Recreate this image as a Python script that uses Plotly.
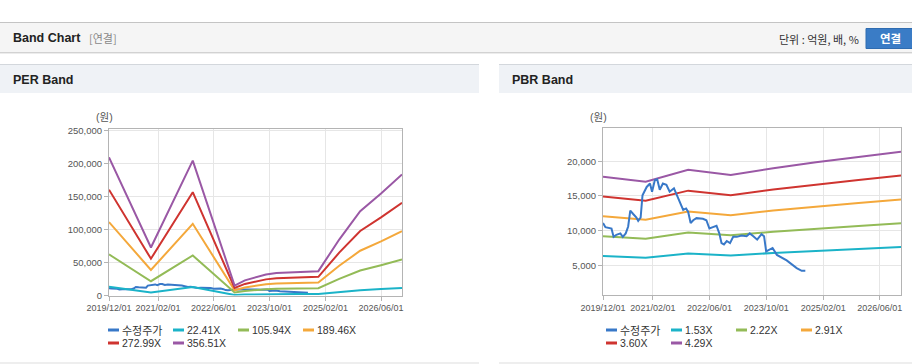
import plotly.graph_objects as go

W, H = 912, 364

# ---------------- data ----------------
per_dates = ['2019-12-01', '2020-12-01', '2021-12-01', '2022-12-01', '2023-03-01', '2023-06-01',
             '2023-09-01', '2023-12-01', '2024-06-01', '2024-12-01', '2025-06-01', '2025-12-01',
             '2026-06-01', '2026-12-01']
per_22_41 = [13200, 4590, 12890, 940, 1450, 1760, 2010, 2140, 2230, 2330, 5340, 8050, 9740, 11560]
per_105_94 = [62400, 21700, 60920, 4460, 6830, 8320, 9510, 10110, 10550, 11000, 25260, 38030, 46060, 54670]
per_189_46 = [111590, 38800, 108940, 7980, 12220, 14870, 17010, 18070, 18870, 19670, 45170, 68020, 82380, 97760]
per_272_99 = [160790, 55910, 156970, 11490, 17610, 21430, 24510, 26040, 27190, 28340, 65080, 98000, 118700, 140860]
per_356_51 = [210000, 73000, 205000, 15000, 23000, 28000, 32000, 34000, 35500, 37000, 85000, 128000, 155000, 184000]

pbr_dates = ['2019-12-01', '2020-12-01', '2021-12-01', '2022-12-01', '2023-12-01', '2024-12-01',
             '2025-12-01', '2026-12-01']
pbr_1_53 = [6342, 6085, 6701, 6426, 6776, 7087, 7358, 7626]
pbr_2_22 = [9202, 8829, 9724, 9324, 9832, 10283, 10676, 11064]
pbr_2_91 = [12062, 11573, 12746, 12222, 12888, 13479, 13994, 14503]
pbr_3_60 = [14922, 14317, 15768, 15120, 15944, 16675, 17312, 17942]
pbr_4_29 = [17782, 17061, 18790, 18018, 19000, 19871, 20631, 21381]

price_dates = ['2019-12-01', '2019-12-22', '2020-02-12', '2020-03-01', '2020-03-25', '2020-04-28',
               '2020-05-19', '2020-06-13', '2020-07-04', '2020-07-22', '2020-08-16', '2020-09-13',
               '2020-09-28', '2020-10-19', '2020-11-04', '2020-12-10', '2021-01-07', '2021-01-25',
               '2021-02-18', '2021-03-10', '2021-04-01', '2021-04-28', '2021-05-28', '2021-06-25',
               '2021-08-01', '2021-08-28', '2021-09-22', '2021-10-19', '2021-11-13', '2021-12-01',
               '2021-12-22', '2022-01-13', '2022-02-10', '2022-04-06', '2022-05-06', '2022-06-01',
               '2022-07-01', '2022-08-01', '2022-08-25', '2022-09-13', '2022-10-04', '2022-10-28',
               '2022-11-25', '2022-12-22', '2023-01-22', '2023-03-04', '2023-04-16', '2023-05-13',
               '2023-06-13', '2023-07-16', '2023-08-22', '2023-09-13', '2023-10-01', '2023-10-28',
               '2023-11-25', '2024-01-01', '2024-03-25', '2024-06-19', '2024-08-01', '2024-09-01']
price_vals = [11100, 10500, 10300, 9100, 9400, 9600,
              9100, 9600, 10600, 12900, 12400, 11900,
              11400, 11900, 15100, 16300, 16800, 15600,
              17300, 17400, 15900, 16800, 16600, 15600,
              16100, 15100, 14200, 13000, 13200, 12700,
              11100, 11500, 11800, 11700, 11500, 10300,
              10500, 10700, 9600, 8200, 8000, 8500,
              8200, 9100, 9100, 9300, 9200, 9600,
              9200, 8700, 9500, 9200, 7000, 7200,
              7500, 6500, 5700, 4600, 4200, 4200]

tick_dates = ['2019-12-01', '2021-02-01', '2022-06-01', '2023-10-01', '2025-02-01', '2026-06-01']
tick_text = ['2019/12/01', '2021/02/01', '2022/06/01', '2023/10/01', '2025/02/01', '2026/06/01']
per_yticks = [0, 50000, 100000, 150000, 200000, 250000]
pbr_yticks = [5000, 10000, 15000, 20000]

per_names = ['수정주가', '22.41X', '105.94X', '189.46X', '272.99X', '356.51X']
pbr_names = ['수정주가', '1.53X', '2.22X', '2.91X', '3.60X', '4.29X']
colors = ['#3878c8', '#1bb3c8', '#93bb57', '#f4a83b', '#cf3430', '#9a58a5']

# ---------------- helpers ----------------
def px(x):
    return x / W

def py(y):
    return 1 - y / H

NUM_FONT = 'Liberation Sans, Arial, sans-serif'
KR_FONT = 'Liberation Sans, Noto Sans CJK KR, sans-serif'
HANGUL_FONT = 'Noto Sans CJK KR, sans-serif'

fig = go.Figure()

per_series = [per_22_41, per_105_94, per_189_46, per_272_99, per_356_51]
pbr_series = [pbr_1_53, pbr_2_22, pbr_2_91, pbr_3_60, pbr_4_29]

fig.add_trace(go.Scatter(x=price_dates, y=price_vals, mode='lines', name=per_names[0],
                         line=dict(color=colors[0], width=2), xaxis='x', yaxis='y', showlegend=False))
for i, s in enumerate(per_series):
    fig.add_trace(go.Scatter(x=per_dates, y=s, mode='lines', name=per_names[i + 1],
                             line=dict(color=colors[i + 1], width=2), xaxis='x', yaxis='y', showlegend=False))
for i, s in enumerate(pbr_series):
    fig.add_trace(go.Scatter(x=pbr_dates, y=s, mode='lines', name=pbr_names[i + 1],
                             line=dict(color=colors[i + 1], width=2), xaxis='x2', yaxis='y2', showlegend=False))
fig.add_trace(go.Scatter(x=price_dates, y=price_vals, mode='lines', name=pbr_names[0],
                         line=dict(color=colors[0], width=2), xaxis='x2', yaxis='y2', showlegend=False))

# ---------------- axes ----------------
GRID = '#e6e6e6'
AXL = '#b4b4b4'
xcommon = dict(type='date', range=['2019-12-01', '2026-12-01'], tickvals=tick_dates, ticktext=tick_text,
               tickangle=0, showgrid=True, gridcolor=GRID, showline=True, linecolor=AXL, mirror=True,
               ticks='outside', ticklen=4, tickcolor=AXL, zeroline=False, automargin=False,
               tickfont=dict(family=NUM_FONT, size=9, color='#555555'))
ycommon = dict(showgrid=True, gridcolor=GRID, showline=True, linecolor=AXL, mirror=True,
               ticks='outside', ticklen=4, tickcolor=AXL, zeroline=False, tickformat=',d', automargin=False,
               tickfont=dict(family=NUM_FONT, size=9.5, color='#555555'))

fig.update_layout(
    width=W, height=H, autosize=False, margin=dict(l=0, r=0, t=0, b=0, pad=0, autoexpand=False),
    paper_bgcolor='white', plot_bgcolor='white', showlegend=False,
    xaxis=dict(domain=[px(109), px(402)], anchor='y', **xcommon),
    yaxis=dict(domain=[py(295.5), py(129)], anchor='x', range=[0, 253000], tickvals=per_yticks, **ycommon),
    xaxis2=dict(domain=[px(603), px(901)], anchor='y2', **xcommon),
    yaxis2=dict(domain=[py(295), py(128.3)], anchor='x2', range=[715, 24760], tickvals=pbr_yticks, **ycommon),
)

shapes = []
ann = []

# top header bar
shapes.append(dict(type='rect', xref='paper', yref='paper', x0=0, x1=1, y0=py(52), y1=py(22),
                   fillcolor='#f5f5f5', line=dict(width=0), layer='below'))
shapes.append(dict(type='line', xref='paper', yref='paper', x0=0, x1=1, y0=py(22.5), y1=py(22.5),
                   line=dict(color='#c4c4c4', width=1)))
shapes.append(dict(type='line', xref='paper', yref='paper', x0=0, x1=1, y0=py(52.5), y1=py(52.5),
                   line=dict(color='#d2d2d2', width=1)))
shapes.append(dict(type='line', xref='paper', yref='paper', x0=0, x1=1, y0=py(53.5), y1=py(53.5),
                   line=dict(color='#ececec', width=1)))
ann.append(dict(text='<b>Band Chart</b>', x=px(11), y=py(38), xref='paper', yref='paper',
                xanchor='left', yanchor='middle', showarrow=False,
                font=dict(family=KR_FONT, size=12.5, color='#222222')))
ann.append(dict(text='[연결]', x=px(87), y=py(38), xref='paper', yref='paper',
                xanchor='left', yanchor='middle', showarrow=False,
                font=dict(family=HANGUL_FONT, size=11, color='#888888')))
ann.append(dict(text='단위 : 억원, 배, %', x=px(861), y=py(39), xref='paper', yref='paper',
                xanchor='right', yanchor='middle', showarrow=False,
                font=dict(family=HANGUL_FONT, size=11, color='#333333')))
shapes.append(dict(type='rect', xref='paper', yref='paper', x0=px(866), x1=px(914), y0=py(48.5), y1=py(28.5),
                   fillcolor='#3a7cc6', line=dict(color='#2f6cb0', width=1)))
ann.append(dict(text='<b>연결</b>', x=px(890), y=py(38.5), xref='paper', yref='paper',
                xanchor='center', yanchor='middle', showarrow=False,
                font=dict(family=HANGUL_FONT, size=11.5, color='white')))

# panel headers
for (x0, x1, title) in [(0, 479, 'PER Band'), (499, 912, 'PBR Band')]:
    shapes.append(dict(type='rect', xref='paper', yref='paper', x0=px(x0), x1=px(x1), y0=py(93), y1=py(64),
                       fillcolor='#eff2f6', line=dict(width=0), layer='below'))
    shapes.append(dict(type='line', xref='paper', yref='paper', x0=px(x0), x1=px(x1), y0=py(64.5), y1=py(64.5),
                       line=dict(color='#d3d7dc', width=1)))
    shapes.append(dict(type='line', xref='paper', yref='paper', x0=px(x0), x1=px(x1), y0=py(363), y1=py(363),
                       line=dict(color='#dddddd', width=1)))
    ann.append(dict(text='<b>' + title + '</b>', x=px(x0 + 11), y=py(80), xref='paper', yref='paper',
                    xanchor='left', yanchor='middle', showarrow=False,
                    font=dict(family=KR_FONT, size=12.5, color='#222222')))

# unit labels
for xc in [104, 598]:
    ann.append(dict(text='(원)', x=px(xc), y=py(117), xref='paper', yref='paper',
                    xanchor='center', yanchor='middle', showarrow=False,
                    font=dict(family=KR_FONT, size=10.5, color='#555555')))

# manual legends
for (left, names) in [(108, per_names), (606, pbr_names)]:
    for i, nm in enumerate(names):
        col, row = i % 4, i // 4
        lx = left + col * 65
        ly = 330 + row * 13
        shapes.append(dict(type='line', xref='paper', yref='paper', x0=px(lx), x1=px(lx + 11),
                           y0=py(ly), y1=py(ly), line=dict(color=colors[i], width=3)))
        ann.append(dict(text=nm, x=px(lx + 12), y=py(ly), xref='paper', yref='paper',
                        xanchor='left', yanchor='middle', showarrow=False,
                        font=dict(family=HANGUL_FONT if i == 0 else NUM_FONT,
                                  size=11 if i == 0 else 10.5, color='#333333')))

fig.update_layout(shapes=shapes, annotations=ann)
fig.write_html('out.html', config={'displayModeBar': False, 'responsive': False},
               post_script="document.body.style.margin='0';document.body.style.padding='0';"
                           "document.documentElement.style.overflow='hidden';")
